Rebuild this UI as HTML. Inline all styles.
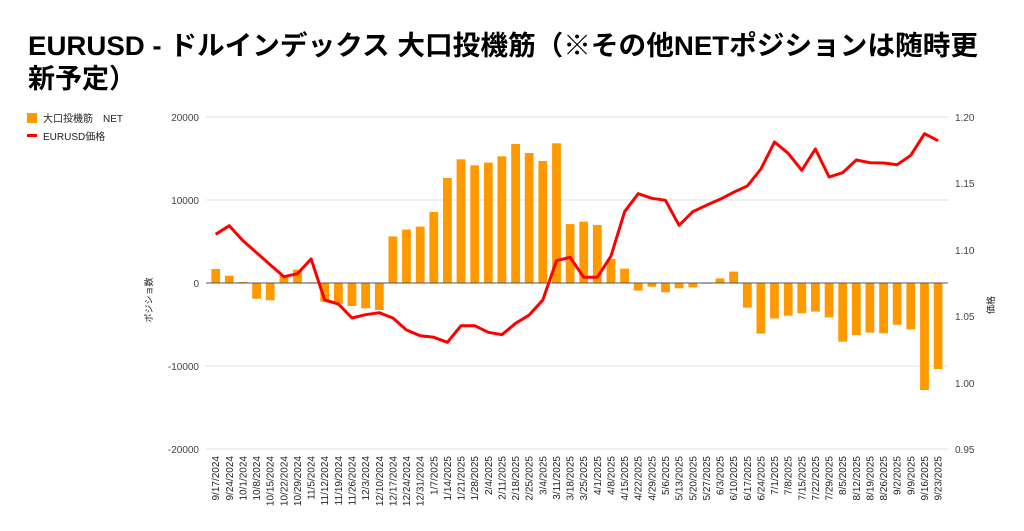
<!DOCTYPE html>
<html><head><meta charset="utf-8"><style>
html,body{margin:0;padding:0;background:#fff;}
svg{display:block;font-family:"Liberation Sans","Noto Sans CJK JP",sans-serif;}
</style></head><body>
<svg width="1024" height="531" viewBox="0 0 1024 531" xmlns="http://www.w3.org/2000/svg">
<text x="28" y="55" font-size="27" font-weight="bold" fill="#000" textLength="950" lengthAdjust="spacingAndGlyphs">EURUSD - ドルインデックス 大口投機筋（※その他NETポジションは随時更</text>
<text x="28" y="88" font-size="27" font-weight="bold" fill="#000">新予定）</text>
<rect x="27" y="113" width="10" height="10" fill="#ff9900"/>
<text x="43" y="122" font-size="10" fill="#222">大口投機筋　NET</text>
<rect x="27" y="134" width="10" height="3" fill="#ff0000"/>
<text x="43" y="140" font-size="10" fill="#222">EURUSD価格</text>
<g stroke="#e0e0e0" stroke-width="1">
<line x1="206" y1="117" x2="948" y2="117"/><line x1="206" y1="200" x2="948" y2="200"/>
<line x1="206" y1="366" x2="948" y2="366"/><line x1="206" y1="449" x2="948" y2="449"/>
</g>
<g font-size="10" fill="#444" text-anchor="end">
<text x="199" y="121">20000</text><text x="199" y="204">10000</text><text x="199" y="287">0</text>
<text x="199" y="370">-10000</text><text x="199" y="453">-20000</text>
</g>
<g font-size="10" fill="#444">
<text x="955" y="121">1.20</text><text x="955" y="187">1.15</text><text x="955" y="254">1.10</text>
<text x="955" y="320">1.05</text><text x="955" y="387">1.00</text><text x="955" y="453">0.95</text>
</g>
<text transform="translate(152,300) rotate(-90)" font-size="9" fill="#222" text-anchor="middle">ポジショ数</text>
<text transform="translate(994,305) rotate(-90)" font-size="9" fill="#222" text-anchor="middle">価格</text>
<g fill="#ff9900">
<rect x="211.3" y="269" width="8.8" height="14"/>
<rect x="224.9" y="275.7" width="8.8" height="7.3"/>
<rect x="238.6" y="282" width="8.8" height="1"/>
<rect x="252.2" y="283" width="8.8" height="15.7"/>
<rect x="265.8" y="283" width="8.8" height="17.3"/>
<rect x="279.5" y="275.7" width="8.8" height="7.3"/>
<rect x="293.1" y="269.7" width="8.8" height="13.3"/>
<rect x="306.7" y="282.3" width="8.8" height="0.7"/>
<rect x="320.3" y="283" width="8.8" height="18.7"/>
<rect x="334" y="283" width="8.8" height="20.8"/>
<rect x="347.6" y="283" width="8.8" height="23"/>
<rect x="361.2" y="283" width="8.8" height="25.3"/>
<rect x="374.9" y="283" width="8.8" height="27"/>
<rect x="388.5" y="236.4" width="8.8" height="46.6"/>
<rect x="402.1" y="229.6" width="8.8" height="53.4"/>
<rect x="415.8" y="226.6" width="8.8" height="56.4"/>
<rect x="429.4" y="212" width="8.8" height="71"/>
<rect x="443" y="178" width="8.8" height="105"/>
<rect x="456.6" y="159.3" width="8.8" height="123.7"/>
<rect x="470.3" y="165.3" width="8.8" height="117.7"/>
<rect x="483.9" y="162.6" width="8.8" height="120.4"/>
<rect x="497.5" y="156.3" width="8.8" height="126.7"/>
<rect x="511.2" y="144" width="8.8" height="139"/>
<rect x="524.8" y="153" width="8.8" height="130"/>
<rect x="538.4" y="161" width="8.8" height="122"/>
<rect x="552.1" y="143.3" width="8.8" height="139.7"/>
<rect x="565.7" y="224.1" width="8.8" height="58.9"/>
<rect x="579.3" y="221.7" width="8.8" height="61.3"/>
<rect x="592.9" y="225" width="8.8" height="58"/>
<rect x="606.6" y="259" width="8.8" height="24"/>
<rect x="620.2" y="268.6" width="8.8" height="14.4"/>
<rect x="633.8" y="283" width="8.8" height="7.6"/>
<rect x="647.5" y="283" width="8.8" height="3.7"/>
<rect x="661.1" y="283" width="8.8" height="9.3"/>
<rect x="674.7" y="283" width="8.8" height="5.3"/>
<rect x="688.4" y="283" width="8.8" height="4.3"/>
<rect x="702" y="283" width="8.8" height="0.7"/>
<rect x="715.6" y="278.4" width="8.8" height="4.6"/>
<rect x="729.2" y="271.6" width="8.8" height="11.4"/>
<rect x="742.9" y="283" width="8.8" height="24.7"/>
<rect x="756.5" y="283" width="8.8" height="50.6"/>
<rect x="770.1" y="283" width="8.8" height="35.4"/>
<rect x="783.8" y="283" width="8.8" height="32.7"/>
<rect x="797.4" y="283" width="8.8" height="30.3"/>
<rect x="811" y="283" width="8.8" height="28.6"/>
<rect x="824.7" y="283" width="8.8" height="34.4"/>
<rect x="838.3" y="283" width="8.8" height="58.7"/>
<rect x="851.9" y="283" width="8.8" height="52"/>
<rect x="865.5" y="283" width="8.8" height="49.6"/>
<rect x="879.2" y="283" width="8.8" height="50.3"/>
<rect x="892.8" y="283" width="8.8" height="41.7"/>
<rect x="906.4" y="283" width="8.8" height="46.3"/>
<rect x="920.1" y="283" width="8.8" height="107"/>
<rect x="933.7" y="283" width="8.8" height="86"/>
</g>
<line x1="206" y1="283" x2="948" y2="283" stroke="#555" stroke-width="1"/>
<polyline fill="none" stroke="#ff0000" stroke-width="3" stroke-linejoin="round" points="215.7,234.3 229.3,225.7 243,240.7 256.6,252.7 270.2,264.7 283.9,276.7 297.5,273.7 311.1,259 324.7,300 338.4,304 352,318 365.6,314.7 379.3,312.7 392.9,318 406.5,330 420.2,335.7 433.8,337.3 447.4,342.3 461,325.7 474.7,325.7 488.3,332.3 501.9,334.7 515.6,323.3 529.2,315 542.8,300 556.5,260.7 570.1,257.3 583.7,277.3 597.3,277.3 611,256 624.6,211.7 638.2,193.7 651.9,198.3 665.5,200.3 679.1,225.3 692.8,211.7 706.4,205.3 720,199.3 733.6,192.3 747.3,186 760.9,169 774.5,142 788.2,153.3 801.8,170.3 815.4,149 829.1,177 842.7,172.7 856.3,160 869.9,162.7 883.6,163 897.2,164.7 910.8,155.3 924.5,133.7 938.1,140.7"/>
<g font-size="10" fill="#222" text-anchor="end">
<text transform="translate(219.2,456) rotate(-90)">9/17/2024</text>
<text transform="translate(232.8,456) rotate(-90)">9/24/2024</text>
<text transform="translate(246.5,456) rotate(-90)">10/1/2024</text>
<text transform="translate(260.1,456) rotate(-90)">10/8/2024</text>
<text transform="translate(273.7,456) rotate(-90)">10/15/2024</text>
<text transform="translate(287.4,456) rotate(-90)">10/22/2024</text>
<text transform="translate(301,456) rotate(-90)">10/29/2024</text>
<text transform="translate(314.6,456) rotate(-90)">11/5/2024</text>
<text transform="translate(328.2,456) rotate(-90)">11/12/2024</text>
<text transform="translate(341.9,456) rotate(-90)">11/19/2024</text>
<text transform="translate(355.5,456) rotate(-90)">11/26/2024</text>
<text transform="translate(369.1,456) rotate(-90)">12/3/2024</text>
<text transform="translate(382.8,456) rotate(-90)">12/10/2024</text>
<text transform="translate(396.4,456) rotate(-90)">12/17/2024</text>
<text transform="translate(410,456) rotate(-90)">12/24/2024</text>
<text transform="translate(423.7,456) rotate(-90)">12/31/2024</text>
<text transform="translate(437.3,456) rotate(-90)">1/7/2025</text>
<text transform="translate(450.9,456) rotate(-90)">1/14/2025</text>
<text transform="translate(464.5,456) rotate(-90)">1/21/2025</text>
<text transform="translate(478.2,456) rotate(-90)">1/28/2025</text>
<text transform="translate(491.8,456) rotate(-90)">2/4/2025</text>
<text transform="translate(505.4,456) rotate(-90)">2/11/2025</text>
<text transform="translate(519.1,456) rotate(-90)">2/18/2025</text>
<text transform="translate(532.7,456) rotate(-90)">2/25/2025</text>
<text transform="translate(546.3,456) rotate(-90)">3/4/2025</text>
<text transform="translate(560,456) rotate(-90)">3/11/2025</text>
<text transform="translate(573.6,456) rotate(-90)">3/18/2025</text>
<text transform="translate(587.2,456) rotate(-90)">3/25/2025</text>
<text transform="translate(600.8,456) rotate(-90)">4/1/2025</text>
<text transform="translate(614.5,456) rotate(-90)">4/8/2025</text>
<text transform="translate(628.1,456) rotate(-90)">4/15/2025</text>
<text transform="translate(641.7,456) rotate(-90)">4/22/2025</text>
<text transform="translate(655.4,456) rotate(-90)">4/29/2025</text>
<text transform="translate(669,456) rotate(-90)">5/6/2025</text>
<text transform="translate(682.6,456) rotate(-90)">5/13/2025</text>
<text transform="translate(696.3,456) rotate(-90)">5/20/2025</text>
<text transform="translate(709.9,456) rotate(-90)">5/27/2025</text>
<text transform="translate(723.5,456) rotate(-90)">6/3/2025</text>
<text transform="translate(737.1,456) rotate(-90)">6/10/2025</text>
<text transform="translate(750.8,456) rotate(-90)">6/17/2025</text>
<text transform="translate(764.4,456) rotate(-90)">6/24/2025</text>
<text transform="translate(778,456) rotate(-90)">7/1/2025</text>
<text transform="translate(791.7,456) rotate(-90)">7/8/2025</text>
<text transform="translate(805.3,456) rotate(-90)">7/15/2025</text>
<text transform="translate(818.9,456) rotate(-90)">7/22/2025</text>
<text transform="translate(832.6,456) rotate(-90)">7/29/2025</text>
<text transform="translate(846.2,456) rotate(-90)">8/5/2025</text>
<text transform="translate(859.8,456) rotate(-90)">8/12/2025</text>
<text transform="translate(873.4,456) rotate(-90)">8/19/2025</text>
<text transform="translate(887.1,456) rotate(-90)">8/26/2025</text>
<text transform="translate(900.7,456) rotate(-90)">9/2/2025</text>
<text transform="translate(914.3,456) rotate(-90)">9/9/2025</text>
<text transform="translate(928,456) rotate(-90)">9/16/2025</text>
<text transform="translate(941.6,456) rotate(-90)">9/23/2025</text>
</g>
</svg>
</body></html>
